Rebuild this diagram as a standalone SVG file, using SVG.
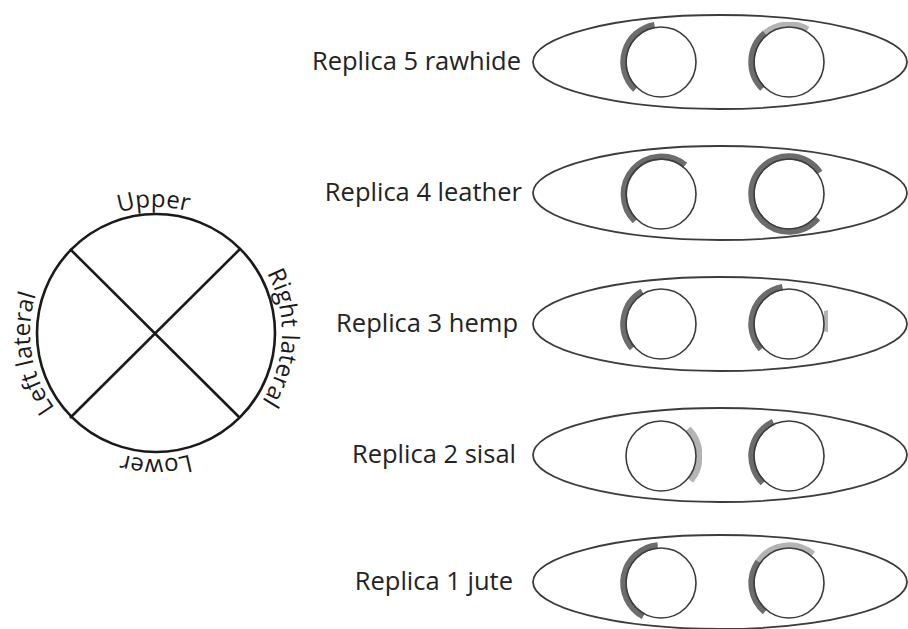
<svg xmlns="http://www.w3.org/2000/svg" xmlns:xlink="http://www.w3.org/1999/xlink" width="908" height="629" viewBox="0 0 908 629">
  <style>
    .lbl { font-family: "Open Sans", "Liberation Sans", sans-serif; font-size: 25.5px; fill: #232323; text-anchor: end; }
    .orient { font-family: "Open Sans", "Liberation Sans", sans-serif; font-size: 24px; fill: #1a1a1a; text-anchor: middle; }
    .ring { fill: none; stroke: #1a1a1a; stroke-width: 2.6; }
    .frame { fill: none; stroke: #3c3c3c; stroke-width: 1.8; }
    .disc { fill: none; stroke: #3c3c3c; stroke-width: 1.6; }
    .wear { fill: none; stroke: #6c6c6c; stroke-width: 6.5; filter: url(#soft); }
    .wear.light { stroke: #b4b4b4; }
  </style>
  <defs>
    <filter id="soft" x="-20%" y="-20%" width="140%" height="140%">
      <feGaussianBlur stdDeviation="0.7"/>
    </filter>
    <!-- clockwise baseline for the orientation labels, starting at lower-left -->
    <path id="orbit" d="M 66.9 422.1 A 126 126 0 1 1 245.1 422.1 A 126 126 0 0 1 66.9 422.1"/>
  </defs>

  <!-- orientation key -->
  <g id="orientation-key">
    <circle class="ring" cx="156" cy="333" r="119"/>
    <line class="ring" x1="70" y1="249" x2="240" y2="418"/>
    <line class="ring" x1="240" y1="249" x2="70" y2="418"/>
    <text class="orient"><textPath xlink:href="#orbit" href="#orbit" startOffset="9.9%">Left lateral</textPath></text>
    <text class="orient"><textPath xlink:href="#orbit" href="#orbit" startOffset="37.2%">Upper</textPath></text>
    <text class="orient"><textPath xlink:href="#orbit" href="#orbit" startOffset="63.1%">Right lateral</textPath></text>
    <text class="orient"><textPath xlink:href="#orbit" href="#orbit" startOffset="87.5%">Lower</textPath></text>
  </g>

  <!-- Replica 5 rawhide -->
  <g id="replica-5">
    <text class="lbl" x="521" y="70">Replica 5 rawhide</text>
    <ellipse class="frame" cx="720" cy="62" rx="187" ry="47"/>
    <g transform="translate(661 62)">
      <path class="wear" d="M -25.6 27.4 A 37.5 37.5 0 0 1 -6.5 -36.9"/>
      <circle class="disc" r="35"/>
    </g>
    <g transform="translate(789 62)">
      <path class="wear light" d="M -24.1 -28.7 A 37.5 37.5 0 0 1 18.8 -32.5"/>
      <path class="wear" d="M -26.5 26.5 A 37.5 37.5 0 0 1 -24.1 -28.7"/>
      <circle class="disc" r="35"/>
    </g>
  </g>

  <!-- Replica 4 leather -->
  <g id="replica-4">
    <text class="lbl" x="522" y="201">Replica 4 leather</text>
    <ellipse class="frame" cx="720" cy="193" rx="187" ry="47"/>
    <g transform="translate(661 194)">
      <path class="wear" d="M -26.0 27.0 A 37.5 37.5 0 0 1 24.1 -28.7"/>
      <circle class="disc" r="35"/>
    </g>
    <g transform="translate(789 194)">
      <path class="wear" d="M 28.7 24.1 A 37.5 37.5 0 1 1 30.7 -21.5"/>
      <circle class="disc" r="35"/>
    </g>
  </g>

  <!-- Replica 3 hemp -->
  <g id="replica-3">
    <text class="lbl" x="518" y="332">Replica 3 hemp</text>
    <ellipse class="frame" cx="720" cy="324" rx="187" ry="47"/>
    <g transform="translate(661 324)">
      <path class="wear" d="M -28.7 24.1 A 37.5 37.5 0 0 1 -18.8 -32.5"/>
      <circle class="disc" r="35"/>
    </g>
    <g transform="translate(789 324)">
      <path class="wear" d="M -27.9 25.1 A 37.5 37.5 0 0 1 -6.5 -36.9"/>
      <path class="wear light" d="M 35.7 -13.0 A 38 38 0 0 1 37.2 7.9"/>
      <circle class="disc" r="35"/>
    </g>
  </g>

  <!-- Replica 2 sisal -->
  <g id="replica-2">
    <text class="lbl" x="516" y="463">Replica 2 sisal</text>
    <ellipse class="frame" cx="720" cy="455" rx="187" ry="47"/>
    <g transform="translate(661 456)">
      <path class="wear light" d="M 27.2 -27.2 A 38.5 38.5 0 0 1 29.5 24.7"/>
      <circle class="disc" r="35"/>
    </g>
    <g transform="translate(789 456)">
      <path class="wear" d="M -26.0 27.0 A 37.5 37.5 0 0 1 -15.8 -34.0"/>
      <circle class="disc" r="35"/>
    </g>
  </g>

  <!-- Replica 1 jute -->
  <g id="replica-1">
    <text class="lbl" x="513" y="590">Replica 1 jute</text>
    <ellipse class="frame" cx="720" cy="582" rx="187" ry="47"/>
    <g transform="translate(661 583)">
      <path class="wear" d="M -17.6 33.1 A 37.5 37.5 0 0 1 -3.3 -37.4"/>
      <circle class="disc" r="35"/>
    </g>
    <g transform="translate(789 583)">
      <path class="wear light" d="M -30.7 -21.5 A 37.5 37.5 0 0 1 24.1 -28.7"/>
      <path class="wear" d="M -24.1 28.7 A 37.5 37.5 0 0 1 -30.7 -21.5"/>
      <circle class="disc" r="35"/>
    </g>
  </g>

  <!-- no connectors in this figure -->
  <g id="connectors"/>
</svg>
